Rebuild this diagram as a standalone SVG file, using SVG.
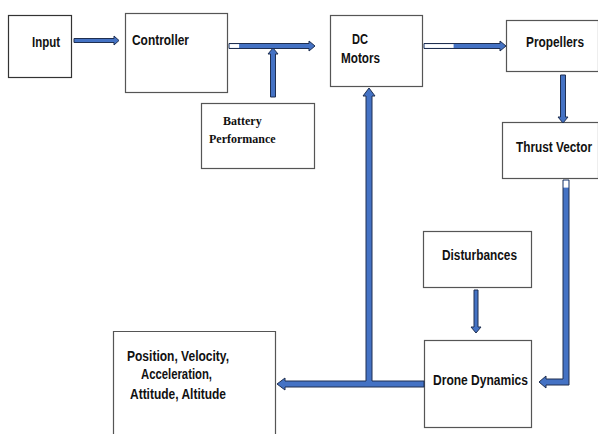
<svg xmlns="http://www.w3.org/2000/svg" width="598" height="434" viewBox="0 0 598 434">
<style>
.box{fill:#fff;stroke:#555;stroke-width:1.2}
.t{font-family:"Liberation Sans Narrow","Liberation Sans",Arial,sans-serif;font-weight:bold;font-size:14px;fill:#111}
.s{font-family:"Liberation Serif","Times New Roman",serif;font-weight:bold;font-size:12px;fill:#111}
.arr{fill:#4472C4;stroke:#1F2F50;stroke-width:1;stroke-linejoin:miter}
.wh{fill:#fff;stroke:none}
</style>
<rect width="598" height="434" fill="#fff"/>
<g id="input"><rect class="box" x="8.5" y="15.5" width="63" height="62" style="stroke:#333"/><text class="t" x="32" y="47" textLength="28" lengthAdjust="spacingAndGlyphs">Input</text></g>
<g id="controller"><rect class="box" x="125.5" y="13.5" width="102" height="79"/><text class="t" x="132" y="45" textLength="57" lengthAdjust="spacingAndGlyphs">Controller</text></g>
<g id="battery"><rect class="box" x="201.5" y="103.5" width="113" height="65"/><text class="s" x="223" y="125">Battery</text><text class="s" x="209" y="143">Performance</text></g>
<g id="dcmotors"><rect class="box" x="330.5" y="15.5" width="92" height="71"/><text class="t" x="352" y="44" textLength="16" lengthAdjust="spacingAndGlyphs">DC</text><text class="t" x="341" y="63" textLength="39" lengthAdjust="spacingAndGlyphs">Motors</text></g>
<g id="propellers"><rect class="box" x="506.5" y="20.5" width="92" height="51"/><text class="t" x="526" y="47" textLength="58" lengthAdjust="spacingAndGlyphs">Propellers</text></g>
<g id="thrust"><rect class="box" x="502.5" y="122.5" width="96" height="56"/><text class="t" x="516" y="152" textLength="76" lengthAdjust="spacingAndGlyphs">Thrust Vector</text></g>
<g id="disturbances"><rect class="box" x="423.5" y="231.5" width="108" height="56"/><text class="t" x="442" y="260" textLength="75" lengthAdjust="spacingAndGlyphs">Disturbances</text></g>
<g id="drone"><rect class="box" x="424.5" y="340.5" width="107" height="87"/><text class="t" x="433" y="385" textLength="95" lengthAdjust="spacingAndGlyphs">Drone Dynamics</text></g>
<g id="outputs"><path class="box" d="M113.5 440 V331.5 H275.5 V440" style="fill:#fff"/>
<text class="t" x="127" y="361" textLength="102" lengthAdjust="spacingAndGlyphs">Position, Velocity,</text>
<text class="t" x="141" y="379" textLength="71" lengthAdjust="spacingAndGlyphs">Acceleration,</text>
<text class="t" x="130" y="399" textLength="96" lengthAdjust="spacingAndGlyphs">Attitude, Altitude</text></g>
<g id="connectors">
<polygon class="arr" points="74,38.5 114,38.5 114,36 119,40.5 114,45 114,42.5 74,42.5"/>
<polygon class="arr" points="229,43.5 309,43.5 309,41 315,46 309,51 309,48.5 229,48.5"/>
<rect class="wh" x="229.6" y="44.1" width="9.5" height="3.8"/>
<polygon class="arr" points="270.5,97 270.5,54 268,54 273,48 278,54 275.5,54 275.5,97"/>
<polygon class="arr" points="424,43.5 500,43.5 500,41 506,46 500,51 500,48.5 424,48.5"/>
<rect class="wh" x="424.6" y="44.1" width="29" height="3.8"/>
<polygon class="arr" points="560.5,75 565.5,75 565.5,117 568,117 563,123 558,117 560.5,117"/>
<polygon class="arr" points="563,180 569,180 569,385 546,385 546,388 539,382 546,376 546,379 563,379"/>
<rect class="wh" x="563.6" y="180.6" width="4.8" height="7"/>
<polygon class="arr" points="474,290 478,290 478,327 481,327 476,333 471,327 474,327"/>
<polygon class="arr" points="424,381 372,381 372,96 375,96 369,88 363,96 366,96 366,381 285,381 285,378 277,384 285,390 285,387 424,387"/>
</g>
</svg>
